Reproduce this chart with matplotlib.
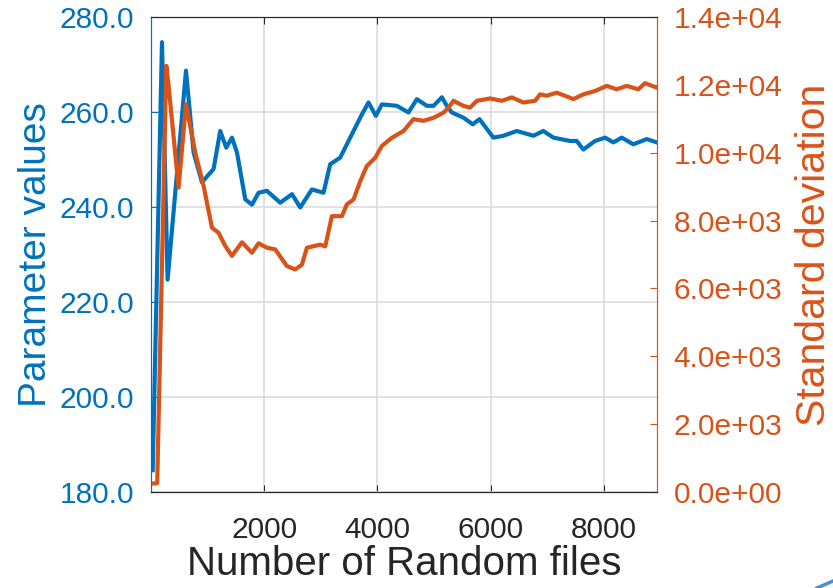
import matplotlib
matplotlib.use("Agg")
import matplotlib.pyplot as plt
from matplotlib.lines import Line2D

plt.rcParams['font.family'] = ['Liberation Sans', 'DejaVu Sans']

# running mean of the parameter vs number of random files
n_files_param = [30, 194, 293, 618, 752, 900, 1105, 1223, 1329, 1430, 1518, 1665, 1783,
                 1900, 2048, 2283, 2490, 2636, 2842, 3047, 3165, 3342, 3518, 3725, 3841,
                 3972, 4078, 4343, 4547, 4696, 4872, 4990, 5137, 5225, 5313, 5519, 5684,
                 5801, 6048, 6224, 6460, 6754, 6930, 7107, 7401, 7519, 7636, 7843, 8020,
                 8166, 8314, 8519, 8755, 8932]
param_values = [184.6, 274.7, 224.7, 268.7, 251.5, 245.2, 248.0, 256.0, 252.5, 254.6, 251.5,
                241.6, 240.5, 243.0, 243.4, 240.9, 242.7, 239.9, 243.7, 243.0, 249.0, 250.4,
                254.6, 259.5, 262.0, 259.2, 261.6, 261.3, 259.9, 262.7, 261.3, 261.3, 263.1,
                261.3, 259.9, 258.8, 257.4, 258.5, 254.6, 255.0, 256.0, 255.0, 256.0, 254.6,
                253.9, 253.9, 252.1, 253.9, 254.6, 253.6, 254.6, 253.2, 254.3, 253.6]

# running standard deviation
n_files_std = [40, 110, 270, 311, 487, 618, 782, 929, 1077, 1194, 1312, 1430, 1606, 1783,
               1900, 2048, 2194, 2400, 2547, 2665, 2754, 2989, 3077, 3195, 3372, 3460, 3577,
               3695, 3813, 3960, 4078, 4254, 4460, 4636, 4813, 4990, 5166, 5254, 5342, 5519,
               5636, 5755, 5990, 6196, 6372, 6577, 6784, 6872, 6990, 7167, 7460, 7636, 7843,
               8049, 8225, 8402, 8607, 8725, 8932]
std_values = [250, 260, 12560, 11970, 8970, 11430, 10000, 9020, 7790, 7640, 7250, 6960,
              7360, 7050, 7330, 7200, 7150, 6660, 6560, 6700, 7200, 7290, 7240, 8130, 8130,
              8480, 8620, 9160, 9610, 9850, 10200, 10440, 10640, 10990, 10940, 11030, 11180,
              11330, 11530, 11380, 11330, 11530, 11600, 11530, 11630, 11480, 11530, 11720,
              11680, 11770, 11580, 11720, 11820, 11970, 11870, 11970, 11870, 12050, 11920]

x_ticks = [2000, 4000, 6000, 8000]
left_ticks = [180, 200, 220, 240, 260, 280]
right_ticks = [0, 2000, 4000, 6000, 8000, 10000, 12000, 14000]

blue = '#0072BD'
orange = '#D95319'

fig = plt.figure(figsize=(8.33, 5.88), dpi=100)
ax1 = fig.add_axes([151 / 833, 1 - 492 / 588, 506 / 833, 475 / 588])
ax2 = ax1.twinx()

ax1.plot(n_files_param, param_values, color=blue, lw=3, solid_joinstyle='round')
ax2.plot(n_files_std, std_values, color=orange, lw=3, solid_joinstyle='round')

ax1.set_xlim(0, 8937)
ax1.set_ylim(180, 280)
ax2.set_ylim(0, 14000)

ax1.set_xticks(x_ticks)
ax1.set_yticks(left_ticks)
ax1.set_yticklabels([f'{v:.1f}' for v in left_ticks])
ax2.set_yticks(right_ticks)
ax2.set_yticklabels([f'{v:.1e}' for v in right_ticks])

ax1.grid(True, color='#dcdcdc', lw=1.2)
ax1.set_axisbelow(True)

ax1.tick_params(axis='x', direction='in', top=True, length=5, labelsize=21.5, pad=17,
                colors='#262626')
ax1.tick_params(axis='y', direction='in', length=5, labelsize=21.5, pad=12,
                colors=blue)
ax2.tick_params(axis='y', direction='in', length=5, labelsize=21.5, pad=12,
                colors=orange)

for s in ['top', 'bottom']:
    ax1.spines[s].set_color('#262626')
    ax2.spines[s].set_color('#262626')
ax2.spines['left'].set_color(blue)
ax1.spines['left'].set_color(blue)
ax2.spines['right'].set_color(orange)
ax1.spines['right'].set_color(orange)

ax1.set_xlabel('Number of Random files', fontsize=29, color='#262626', labelpad=1)
ax1.set_ylabel('Parameter values', fontsize=28, color=blue, labelpad=4)
ax2.set_ylabel('Standard deviation', fontsize=29.5, color=orange, labelpad=9)

# slide corner decoration
fig.add_artist(Line2D([817 / 833, 1.0], [0.0, 7 / 588], color='#4a8fd4', lw=2.5))

fig.savefig('out.png', dpi=100)
